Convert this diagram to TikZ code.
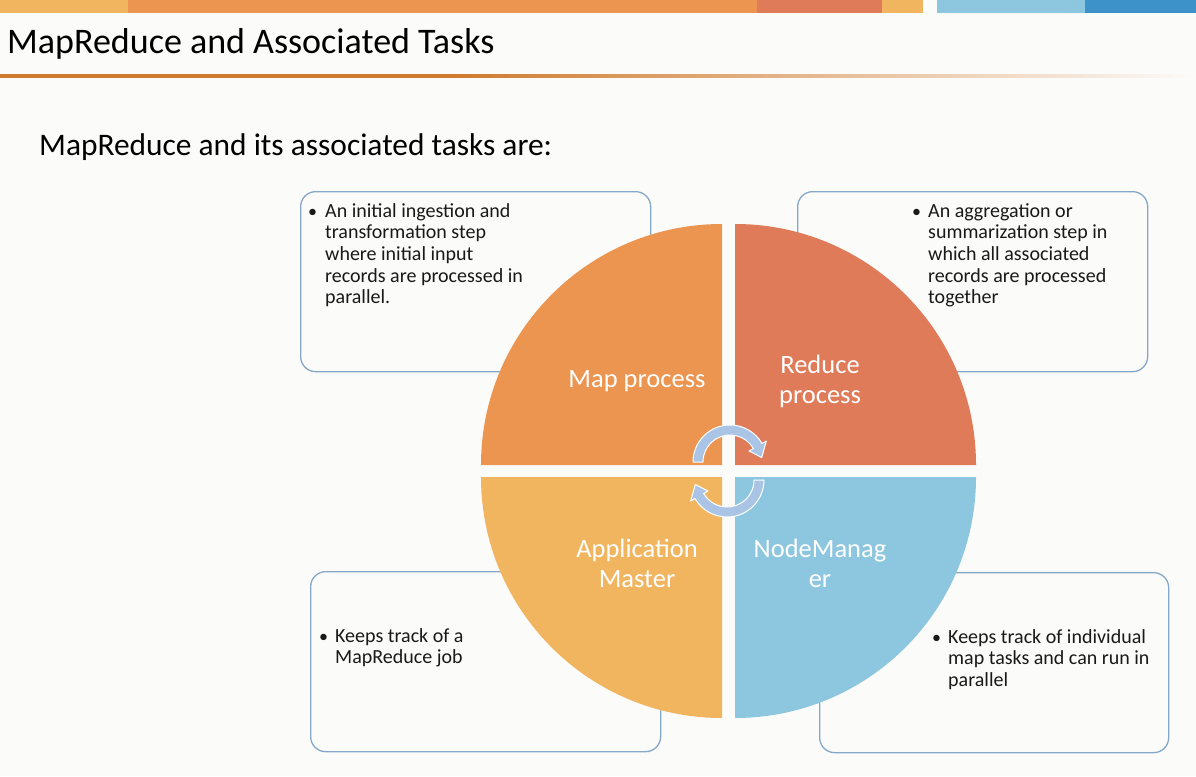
\documentclass[tikz,border=0pt]{standalone}
\usepackage{fontspec}
\setmainfont{Carlito}
\definecolor{bg}{HTML}{FBFBFA}
\definecolor{cOrange}{HTML}{EB9550}
\definecolor{cRed}{HTML}{E07B5A}
\definecolor{cYellow}{HTML}{F0B55E}
\definecolor{cLightBlue}{HTML}{8DC6DF}
\definecolor{cBlue}{HTML}{3D93C9}
\definecolor{boxline}{HTML}{86A8C8}
\definecolor{arrowfill}{HTML}{A9C4E4}
\definecolor{rule}{HTML}{CF7A2C}
\newcommand\textlines[1]{\begin{tabular}[t]{@{}l@{}}#1\end{tabular}}
\begin{document}
\begin{tikzpicture}[x=1pt,y=1pt,
  infobox/.style={draw=boxline, line width=1.3pt, rounded corners=15pt, fill=bg, anchor=north west, inner sep=0pt},
  boxtext/.style={anchor=base west, inner sep=0pt, font=\fontsize{20}{21.7}\selectfont, text=black!90},
  bul/.style={anchor=base west, inner sep=0pt, font=\fontsize{18}{21.7}\selectfont, text=black!90},
  quadlabel/.style={align=center, inner sep=0pt, text=white, font=\fontsize{26.5}{30}\selectfont},
  cyclearrow/.style={fill=arrowfill, draw=white, line width=1pt, line join=round}]
\fill[bg] (0,0) rectangle (1196,-776);
\useasboundingbox (0,0) rectangle (1196,-776);
% top bar
\fill[cYellow] (0,0) rectangle (128,-13);
\fill[cOrange] (128,0) rectangle (757,-13);
\fill[cRed] (757,0) rectangle (882,-13);
\fill[cYellow] (882,0) rectangle (923,-13);
\fill[cLightBlue] (937,0) rectangle (1085,-13);
\fill[cBlue] (1085,0) rectangle (1196,-13);
% title
\node[anchor=base west, inner sep=0pt, font=\fontsize{36}{42}\selectfont] (title) at (7,-54) {MapReduce and Associated Tasks};
\fill[rule] (0,-74) rectangle (450,-77.5);
\shade[left color=rule, right color=bg] (449,-74) rectangle (1196,-77.5);
% subtitle
\node[anchor=base west, inner sep=0pt, font=\fontsize{31.4}{36}\selectfont] (subtitle) at (39,-155) {MapReduce and its associated tasks are:};
% boxes
\node[infobox, minimum width=350, minimum height=180] (mapbox) at (300,-191) {};
\node[infobox, minimum width=350, minimum height=180] (redbox) at (797,-191) {};
\node[infobox, minimum width=350, minimum height=180] (appbox) at (310,-571) {};
\node[infobox, minimum width=349, minimum height=180] (nodebox) at (819,-572) {};
% box texts
\node[bul] (mapbul) at (308,-217) {\textbullet};
\node[boxtext] (maptext) at (325,-217) {\textlines{An initial ingestion and\\transformation step\\where initial input\\records are processed in\\parallel.}};
\node[bul] (redbul) at (912,-217) {\textbullet};
\node[boxtext] (redtext) at (928,-217) {\textlines{An aggregation or\\summarization step in\\which all associated\\records are processed\\together}};
\node[bul] (appbul) at (319,-642) {\textbullet};
\node[boxtext] (apptext) at (335,-642) {\textlines{Keeps track of a\\MapReduce job}};
\node[bul] (nodebul) at (932,-643) {\textbullet};
\node[boxtext] (nodetext) at (948,-643) {\textlines{Keeps track of individual\\map tasks and can run in\\parallel}};
% quadrants
\fill[cOrange] (722,-465) -- (481,-465) arc[start angle=180, end angle=90, radius=241] -- cycle;
\fill[cRed] (735,-465) -- (735,-224) arc[start angle=90, end angle=0, radius=241] -- cycle;
\fill[cYellow] (722,-477) -- (722,-718) arc[start angle=270, end angle=180, radius=241] -- cycle;
\fill[cLightBlue] (735,-477) -- (976,-477) arc[start angle=0, end angle=-90, radius=241] -- cycle;
% labels
\node[quadlabel] (maplabel) at (637,-381) {Map process};
\node[quadlabel] (redlabel) at (820,-381) {Reduce\\process};
\node[quadlabel] (applabel) at (637,-563) {Application\\Master};
\node[quadlabel] (nodelabel) at (820,-563) {NodeManag\\er};
% cycle arrows
\begin{scope}[shift={(730,-462)}]
\draw[cyclearrow] (180:37) arc[start angle=180, end angle=30, radius=37] -- (30:42) -- (8:32) -- (30:22) -- (30:27) arc[start angle=30, end angle=180, radius=27] -- cycle;
\end{scope}
\begin{scope}[shift={(727,-480)}]
\draw[cyclearrow] (0:37) arc[start angle=0, end angle=-150, radius=37] -- (210:42) -- (188:32) -- (210:22) -- (210:27) arc[start angle=-150, end angle=0, radius=27] -- cycle;
\end{scope}
\end{tikzpicture}
\end{document}
